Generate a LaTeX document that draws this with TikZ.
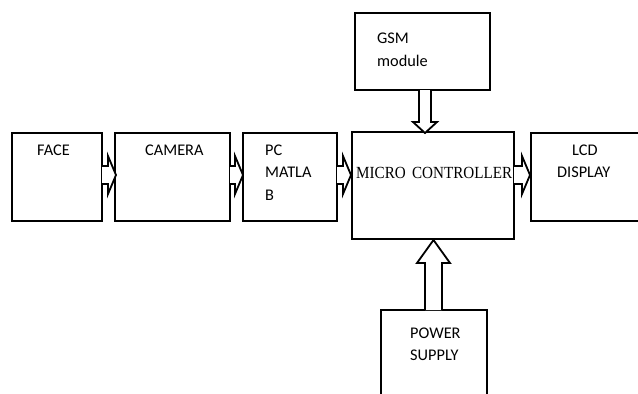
\documentclass[tikz,border=0pt]{standalone}
\usepackage{fontspec}
\usetikzlibrary{calc}
\setmainfont{Carlito}
\newfontfamily\serifmc{Liberation Serif}
\begin{document}
\begin{tikzpicture}[x=1pt,y=-1pt,
  box/.style={draw,line width=2pt,anchor=north west,inner sep=0pt,outer sep=0pt},
  blk/.style={draw,line width=1.8pt,fill=white,line join=miter},
  lbl/.style={anchor=base west,inner sep=0pt,font=\fontsize{16.3}{16}\selectfont}]
\useasboundingbox (0,0) rectangle (638,394);
% boxes
\node[box,minimum width=90pt,minimum height=88pt] (face) at (12,133) {};
\node[box,minimum width=115pt,minimum height=88pt] (cam) at (115,133) {};
\node[box,minimum width=94pt,minimum height=88pt] (pc) at (243,133) {};
\node[box,minimum width=162pt,minimum height=107pt] (mc) at (352,132) {};
\node[box,minimum width=135pt,minimum height=77pt] (gsm) at (355,13) {};
\coordinate (lcdtl) at (531,133);
\coordinate (lcdbl) at (531,221);
\draw[line width=2pt] (638,133) -- (lcdtl) -- (lcdbl) -- (638,221);
\coordinate (pstl) at (381,310);
\coordinate (pstr) at (487,310);
\draw[line width=2pt] (381,394) -- (pstl) -- (pstr) -- (487,394);
% labels
\node[lbl] (tface) at (37,155) {FACE};
\node[lbl] (tcam) at (145,155) {CAMERA};
\node[lbl] (tpc1) at (265,155) {PC};
\node[lbl] (tpc2) at (265,177) {MATLA};
\node[lbl] (tpc3) at (265,200) {B};
\node[lbl] (tgsm1) at (377,43) {GSM};
\node[lbl] (tgsm2) at (377,66) {module};
\node[lbl] (tmc) at (356,178) {\serifmc\fontsize{17}{17}\selectfont\scalebox{0.89}[1]{MICRO\ \,CONTROLLER}};
\node[lbl] (tlcd1) at (572,155) {LCD};
\node[lbl] (tlcd2) at (557,177) {DISPLAY};
\node[lbl] (tps1) at (410,338) {POWER};
\node[lbl] (tps2) at (410,360) {SUPPLY};
% horizontal block arrows
\foreach \a/\b/\t in {102/108/116, 230/235/243, 337/343/351, 514/522/530}{
  \draw[blk] (\a,166) -- (\b,166) -- (\b,156) -- (\t,175) -- (\b,194) -- (\b,184) -- (\a,184);
}
% GSM arrow (down)
\draw[blk] (419,90) -- (419,122) -- (413,122) -- (425,133) -- (437,122) -- (431,122) -- (431,90);
% power arrow (up)
\draw[blk] (425,310) -- (425,263) -- (417,263) -- (433.5,240) -- (450,263) -- (442,263) -- (442,310);
\end{tikzpicture}
\end{document}
